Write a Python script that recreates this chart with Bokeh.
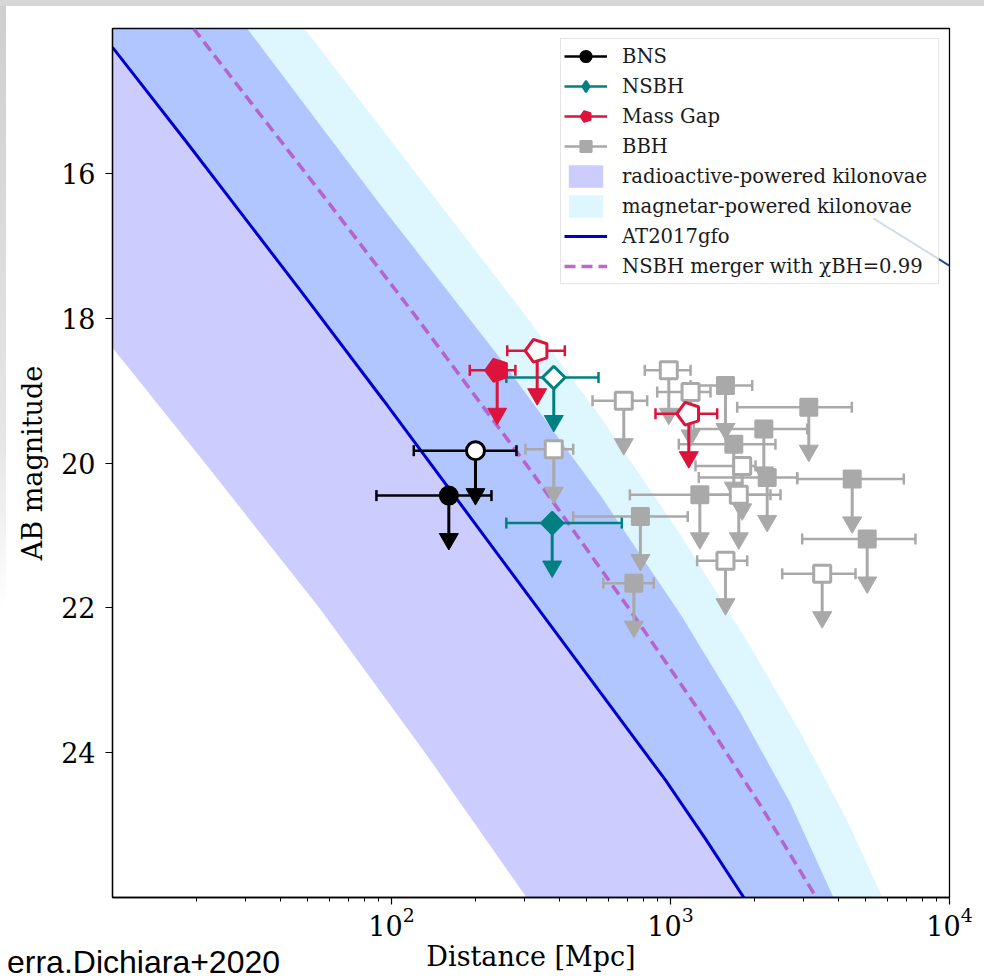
import numpy as np
from bokeh.plotting import figure
from bokeh.models import (Range1d, FixedTicker, LogTickFormatter, ColumnDataSource,
                          Legend, LegendItem, Arrow, Spacer, Div)
from bokeh.layouts import column, row
from bokeh.embed import file_html
from bokeh.resources import INLINE

SERIF = "DejaVu Serif"

# ---------------- axis setup ----------------
x_lo, x_hi = 10, 1e4          # distance [Mpc]
y_faint, y_bright = 26, 14    # AB magnitude (bright at top)
x_major_ticks = [1e2, 1e3, 1e4]
y_major_ticks = [16, 18, 20, 22, 24]

# ---------------- model curves (distance [Mpc], AB mag) ----------------
at2017gfo_dist = [10, 18.27, 47.2, 93.85, 361.5, 959.6, 1335, 1831]
at2017gfo_mag = [14.26, 15.55, 17.62, 19.14, 22.18, 24.38, 25.19, 26.0]

nsbh099_dist = [19.51, 58.82, 120.2, 314.9, 718.8, 1281, 2102, 3330]
nsbh099_mag = [14.0, 16.38, 17.94, 20.10, 22.04, 23.45, 24.73, 26.0]

# radioactive-powered kilonovae: faint edge and bright edge
radio_faint_dist = [10, 22.27, 55.07, 131.9, 304.7]
radio_faint_mag = [18.41, 20.08, 22.0, 24.0, 26.0]
radio_bright_dist = [30.4, 88.9, 245.9, 561.2, 1086, 1782, 2692, 3839]
radio_bright_mag = [14.0, 16.38, 18.56, 20.45, 22.09, 23.45, 24.70, 26.0]

# magnetar-powered kilonovae: bright edge (faint edge follows AT2017gfo)
magnetar_bright_dist = [48.77, 145.8, 290, 561.2, 1086, 1883, 2924, 4274, 5754]
magnetar_bright_mag = [14.0, 16.38, 17.87, 19.36, 20.99, 22.46, 23.72, 24.92, 26.0]

# ---------------- GW events: upper limits ----------------
bns_dist = [160.5, 200.0]
bns_dist_lo = [88.3, 120.2]
bns_dist_hi = [228.2, 280.5]
bns_mag = [20.45, 19.83]
bns_open = [False, True]

nsbh_dist = [376.7, 381.6]
nsbh_dist_lo = [258, 258]
nsbh_dist_hi = [669, 552]
nsbh_mag = [20.83, 18.82]
nsbh_open = [False, True]

massgap_dist = [239.2, 332.8, 1163]
massgap_dist_lo = [190.8, 259.9, 883.6]
massgap_dist_hi = [278, 418, 1470]
massgap_mag = [18.72, 18.45, 19.32]
massgap_open = [False, True, True]

bbh_dist = [381.6, 986, 1180, 680, 1807, 1757, 1574, 3497,
            1574, 3131, 2160, 1686, 2221, 4480, 1274, 780, 5070, 739]
bbh_dist_lo = [302.1, 808.8, 896, 525.4, 1229, 1281, 1246, 2514,
               1180, 1734, 1212, 1071, 1263, 2846, 715, 448, 2965, 574]
bbh_dist_hi = [448.0, 1180, 1391, 825, 2017, 2479, 1883, 4604,
               1963, 4466, 3090, 2378, 2846, 6858, 2282, 1153, 7552, 871]
bbh_mag = [19.81, 18.72, 19.02, 19.14, 20.04, 20.44, 21.35, 21.53,
           18.93, 19.23, 19.53, 19.74, 20.20, 20.22, 20.44, 20.74, 21.05, 21.66]
bbh_open = [True] * 8 + [False] * 10

ARROW_LEN = 0.6   # offset of the arrow head centre below the limit [mag]

p = figure(width=978, height=972, x_axis_type="log",
           x_range=Range1d(x_lo, x_hi), y_range=Range1d(y_faint, y_bright),
           output_backend="svg", toolbar_location=None,
           min_border_left=106, min_border_right=35, min_border_top=22, min_border_bottom=81,
           background_fill_color="white", border_fill_color="white")
p.outline_line_color = "black"
p.outline_line_width = 1.3
p.xgrid.visible = False
p.ygrid.visible = False

minor = [k * 10.0 ** e for e in (1, 2, 3) for k in range(2, 10)]
p.xaxis.ticker = FixedTicker(ticks=x_major_ticks, minor_ticks=minor)
p.xaxis.formatter = LogTickFormatter()
p.yaxis.ticker = FixedTicker(ticks=y_major_ticks, minor_ticks=[])
for ax in (p.xaxis, p.yaxis):
    ax.axis_line_color = "black"
    ax.axis_line_width = 1.3
    ax.major_tick_line_color = "black"
    ax.minor_tick_line_color = "black"
    ax.major_tick_line_width = 1.2
    ax.major_tick_in = 0
    ax.major_tick_out = 7
    ax.minor_tick_in = 0
    ax.minor_tick_out = 4
    ax.major_label_text_font = SERIF
    ax.major_label_text_font_size = "27px"
    ax.major_label_text_color = "black"
    ax.axis_label_text_font = SERIF
    ax.axis_label_text_font_size = "27px"
    ax.axis_label_text_font_style = "normal"
    ax.axis_label_text_color = "black"
p.yaxis.major_label_standoff = 10
p.yaxis.axis_label_standoff = 10
p.xaxis.major_label_standoff = 2
p.xaxis.axis_label_standoff = 2
p.xaxis.axis_label = "Distance [Mpc]"
p.yaxis.axis_label = "AB magnitude"

# ---------------- kilonova bands ----------------
mag_xs = at2017gfo_dist + magnetar_bright_dist[::-1] + [x_lo]
mag_ys = at2017gfo_mag + magnetar_bright_mag[::-1] + [y_bright]
mag_band = p.patch(mag_xs, mag_ys, fill_color="deepskyblue", fill_alpha=0.13, line_color=None)

radio_xs = radio_faint_dist + radio_bright_dist[::-1] + [x_lo]
radio_ys = radio_faint_mag + radio_bright_mag[::-1] + [y_bright]
radio_band = p.patch(radio_xs, radio_ys, fill_color="blue", fill_alpha=0.2, line_color=None)

at_line = p.line(at2017gfo_dist, at2017gfo_mag, line_color="mediumblue", line_width=3)
nsbh_line = p.line(nsbh099_dist, nsbh099_mag, line_color="#b658c8", line_alpha=0.9,
                   line_width=3.5, line_dash="11 6")


# ---------------- events ----------------
def pentagons(src, **style):
    if hasattr(p, "ngon"):
        return p.ngon(x="d", y="m", radius=12, radius_units="screen", n=5,
                      angle=np.pi / 2, source=src, **style)
    return p.scatter(x="d", y="m", marker="hex", size=22, source=src, **style)


def draw_events(dist, lo, hi, mag, is_open, color, kind):
    src = ColumnDataSource(dict(d=dist, lo=lo, hi=hi, m=mag,
                                head=[v + ARROW_LEN for v in mag]))
    bars = p.segment(x0="lo", y0="m", x1="hi", y1="m", source=src,
                     line_color=color, line_width=2.5)
    for end in ("lo", "hi"):
        p.scatter(x=end, y="m", source=src, marker="dash", angle=np.pi / 2,
                  size=11, line_color=color, line_width=2.5)
    p.segment(x0="d", y0="m", x1="d", y1="head", source=src,
              line_color=color, line_width=3)
    p.scatter(x="d", y="head", source=src, marker="inverted_triangle", size=19,
              fill_color=color, line_color=color, line_width=1)

    def subset(flag):
        idx = [i for i, o in enumerate(is_open) if o == flag]
        return ColumnDataSource(dict(d=[dist[i] for i in idx], m=[mag[i] for i in idx]))

    out = {}
    key = None
    for flag, face, lw in ((False, color, 2), (True, "white", 3)):
        s = subset(flag)
        style = dict(fill_color=face, line_color=color, line_width=lw)
        if kind == "circle":
            r = p.scatter(x="d", y="m", source=s, marker="circle", size=18, **style)
        elif kind == "diamond":
            if not flag:
                # upright diamond underneath, used as the legend key
                key = p.scatter(x="d", y="m", source=s, marker="diamond", size=15, **style)
            r = p.scatter(x="d", y="m", source=s, marker="square", angle=np.pi / 4,
                          size=16, **style)
        elif kind == "square":
            r = p.scatter(x="d", y="m", source=s, marker="square", size=17, **style)
        else:
            r = pentagons(s, **style)
        out[flag] = r
    return bars, (key if key is not None else out[False])


bbh_bars, bbh_mk = draw_events(bbh_dist, bbh_dist_lo, bbh_dist_hi, bbh_mag, bbh_open,
                               "darkgray", "square")
bns_bars, bns_mk = draw_events(bns_dist, bns_dist_lo, bns_dist_hi, bns_mag, bns_open,
                               "black", "circle")
nsbh_bars, nsbh_mk = draw_events(nsbh_dist, nsbh_dist_lo, nsbh_dist_hi, nsbh_mag, nsbh_open,
                                 "teal", "diamond")
mg_bars, mg_mk = draw_events(massgap_dist, massgap_dist_lo, massgap_dist_hi, massgap_mag,
                             massgap_open, "crimson", "pentagon")

legend = Legend(items=[
    LegendItem(label="BNS", renderers=[bns_bars, bns_mk]),
    LegendItem(label="NSBH", renderers=[nsbh_bars, nsbh_mk]),
    LegendItem(label="Mass Gap", renderers=[mg_bars, mg_mk]),
    LegendItem(label="BBH", renderers=[bbh_bars, bbh_mk]),
    LegendItem(label="radioactive-powered kilonovae", renderers=[radio_band]),
    LegendItem(label="magnetar-powered kilonovae", renderers=[mag_band]),
    LegendItem(label="AT2017gfo", renderers=[at_line]),
    LegendItem(label="NSBH merger with \u03c7BH=0.99", renderers=[nsbh_line]),
], location="top_right")
legend.margin = 10
legend.padding = 3
legend.spacing = 2
legend.glyph_width = 43
legend.glyph_height = 28
legend.label_height = 28
legend.label_width = 313
legend.label_standoff = 15
legend.label_text_font = SERIF
legend.label_text_font_size = "19.6px"
legend.label_text_color = "#1a1a1a"
legend.border_line_color = "#cccccc"
legend.border_line_width = 1
legend.background_fill_color = "white"
legend.background_fill_alpha = 0.8
p.add_layout(legend)

# pointer line from the legend towards the right
p.add_layout(Arrow(end=None, x_start=761, y_start=679, x_end=872, y_end=610,
                   start_units="screen", end_units="screen",
                   line_color="#1c4585", line_width=2))

top_bar = Spacer(width=984, height=6, styles={"background-color": "#d7d7d7"})
left_bar = Spacer(width=6, height=972,
                  styles={"background": "linear-gradient(#cfcfcf, #e6e6e6 45%, #ffffff 62%)"})

# credit line, bottom left
credit = Div(text='<span style="font-family: \'Liberation Sans\', Arial, sans-serif; '
                  'font-size: 32px; color: black; white-space: nowrap; line-height: 38px;">'
                  'erra.Dichiara+2020</span>',
             width=300, height=38,
             styles={"position": "absolute", "left": "2px", "top": "938px", "z-index": "20"})

layout = column(top_bar, row(left_bar, p), credit)

open("out.html", "w").write(file_html(layout, INLINE))
